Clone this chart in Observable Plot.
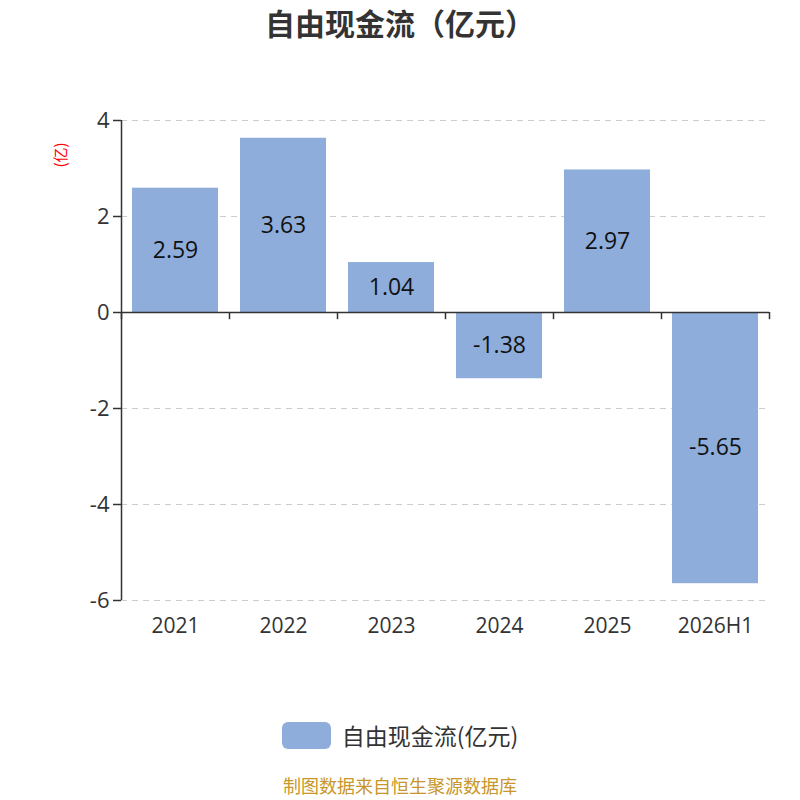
<!DOCTYPE html>
<html><head><meta charset="utf-8">
<script src="https://cdn.jsdelivr.net/npm/d3@7"></script>
<script src="https://cdn.jsdelivr.net/npm/@observablehq/plot@0.6"></script>
<style>
body{margin:0;background:#fff;font-family:"Open Sans","Noto Sans CJK SC",sans-serif;}
#wrap{position:relative;width:800px;height:800px;overflow:hidden;}
#chart{position:absolute;left:0;top:0;}
.title{position:absolute;left:0;top:2px;width:800px;text-align:center;font-size:30px;line-height:40px;font-weight:bold;color:#333;font-family:"Noto Sans CJK SC",sans-serif;}
.ylab{position:absolute;left:44px;top:145px;width:32px;height:20px;line-height:20px;text-align:center;transform:rotate(-90deg);transform-origin:center;color:#f00;font-size:15px;font-family:"Noto Sans CJK SC",sans-serif;}
.legend{position:absolute;top:718px;left:0;width:800px;height:34px;display:flex;justify-content:center;align-items:center;font-size:23px;color:#333;font-family:"Noto Sans CJK SC",sans-serif;}
.sw{width:49px;height:27px;border-radius:6px;background:#8EADDB;margin-right:11px;}
.foot{position:absolute;top:775px;left:0;width:800px;text-align:center;font-size:18px;line-height:20px;color:#C8962A;font-family:"Noto Sans CJK SC",sans-serif;}
</style></head>
<body>
<div id="wrap">
<div id="chart"></div>
<div class="title">自由现金流（亿元）</div>
<div class="ylab">(亿)</div>
<div class="legend"><div class="sw"></div><span>自由现金流(亿元)</span></div>
<div class="foot">制图数据来自恒生聚源数据库</div>
</div>
<script>
const categories = ["2021","2022","2023","2024","2025","2026H1"];
const values = [2.59, 3.63, 1.04, -1.38, 2.97, -5.65];
const yTicks = [4, 2, 0, -2, -4, -6];

const data = categories.map((c,i)=>({cat:c, v:values[i]}));
const color = "#8EADDB";

const chart = Plot.plot({
  width: 800, height: 800,
  marginTop: 120, marginBottom: 200, marginLeft: 121, marginRight: 31,
  style: {fontFamily: '"Open Sans","Noto Sans CJK SC",sans-serif', background: "#fff"},
  x: {domain: categories, paddingInner: 0.2, paddingOuter: 0.1, label: null},
  y: {domain: [-6, 4], label: null},
  marks: [
    Plot.gridY(yTicks.filter(t=>t!==0), {stroke:"#ccc", strokeOpacity:1, strokeDasharray:"6,5", strokeWidth:1.2}),
    Plot.barY(data, {x:"cat", y:"v", fill:color}),
    Plot.ruleY([0], {stroke:"#333", strokeWidth:1.5}),
    Plot.ruleX(categories, {x:d=>d, y1:0, y2:-0.15, dx:-54, stroke:"#333", strokeWidth:1.5}),
    Plot.ruleX([categories[categories.length-1]], {x:d=>d, y1:0, y2:-0.15, dx:54, stroke:"#333", strokeWidth:1.5}),
    Plot.ruleX([categories[0]], {x:d=>d, y1:-6, y2:4, dx:-54, stroke:"#333", strokeWidth:1.5}),
    Plot.axisY({ticks: yTicks, tickFormat: d=>String(d), tickSize: 8, tickPadding: 4, fontSize: 22, color:"#333", stroke:"#333", strokeWidth:1.5, label:null}),
    Plot.axisX({tickSize:0, tickPadding: 18, fontSize: 21, color:"#333", frameAnchor:"bottom", label:null}),
    Plot.text(data, {x:"cat", y:d=>d.v/2, text:d=>d.v.toFixed(2), fontSize:23, fill:"#111"})
  ]
});
document.getElementById("chart").appendChild(chart);
</script>
</body></html>
